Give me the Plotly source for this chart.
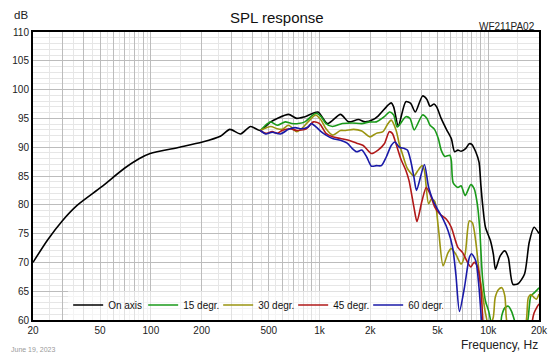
import plotly.graph_objects as go
import math

# ---------------- data ----------------
freq_on = [20, 24.4, 29.8, 36.5, 50.9, 69.4, 85, 99, 148, 202, 258, 294, 340, 390, 445, 513, 561, 655, 732, 818,
           978, 1116, 1330, 1488, 1700, 1860, 2080, 2222, 2546, 2660, 2750, 2930, 3246, 3470, 3694, 4080, 4330,
           4520, 4777, 4946, 5260, 5652, 6040, 6320, 6606, 6903, 7370, 7720, 7990, 8430, 8820, 9040, 9250, 9630,
           10300, 10730, 11040, 11760, 12540, 13160, 14000, 15030, 16420, 17500, 18700, 20000]
spl_on = [70.0, 73.9, 77.2, 79.9, 83.1, 86.3, 88.0, 88.9, 90.0, 90.9, 91.9, 93.1, 92.3, 93.6, 92.9, 94.4, 95.0, 95.7,
          95.0, 95.3, 96.1, 94.1, 95.7, 94.4, 94.8, 94.4, 94.8, 95.4, 97.3, 97.7, 97.0, 93.7, 97.9, 97.6, 96.1,
          98.9, 98.3, 97.1, 97.5, 97.0, 95.0, 93.1, 91.5, 89.2, 89.5, 89.3, 89.8, 90.6, 90.5, 89.2, 87.4, 83.5,
          80.2, 76.1, 73.8, 71.4, 68.8, 71.1, 72.0, 70.8, 66.2, 66.3, 68.0, 73.5, 76.1, 75.0]

freq_15 = [445, 491, 513, 561, 626, 685, 749, 818, 914, 956, 1021, 1092, 1194, 1364, 1559, 1780, 1987, 2170, 2421,
           2600, 2750, 2890, 3246, 3436, 3640, 4080, 4330, 4520, 4800, 5059, 5260, 5530, 5913, 6040, 6200, 6606,
           6903, 7300, 7886, 8250, 8610, 8890, 9250, 9630, 10070, 10500, 11200, 11760, 12040, 12540, 13160, 13750,
           14350, 15000, 16000, 17180, 17900, 18700, 20000]
spl_15 = [92.9, 94.1, 94.4, 93.8, 94.4, 94.1, 94.1, 94.4, 95.6, 95.9, 95.3, 94.1, 93.6, 94.1, 94.2, 94.1, 94.4, 94.4,
          95.3, 96.1, 95.6, 93.5, 95.3, 95.0, 93.0, 95.6, 95.0, 93.8, 93.1, 91.5, 89.5, 88.4, 88.6, 87.7, 83.8, 83.0,
          83.3, 81.6, 83.5, 82.8, 80.2, 76.1, 67.3, 63.3, 61.5, 59.0, 57.0, 58.5, 60.8, 62.1, 62.4, 61.5, 59.8, 57.5,
          57.0, 60.0, 64.2, 64.7, 65.6]

freq_30 = [445, 513, 561, 599, 655, 732, 782, 874, 947, 1021, 1092, 1194, 1330, 1426, 1592, 1780, 1987, 2170, 2376,
           2546, 2660, 2840, 2968, 3094, 3316, 3626, 3800, 4050, 4180, 4428, 4610, 4820, 5059, 5400, 5780, 6040,
           6430, 6903, 7300, 7720, 8050, 8430, 8820, 9250, 9630, 10100, 10700, 11000, 11516, 12036, 12540, 12800,
           13400, 15000, 16400, 16900, 17300, 17900, 18700, 19300, 20000]
spl_30 = [92.9, 93.6, 93.2, 93.1, 93.8, 92.7, 93.2, 94.7, 95.6, 94.7, 93.2, 92.1, 92.9, 92.9, 93.1, 92.8, 91.8, 92.4,
          92.7, 94.1, 94.7, 93.0, 90.6, 88.9, 86.3, 85.0, 85.8, 86.8, 86.0, 80.2, 81.0, 80.6, 76.1, 69.4, 71.7, 72.4,
          71.4, 69.7, 71.5, 77.2, 76.9, 73.7, 68.5, 64.5, 61.2, 58.8, 60.4, 63.9, 65.3, 65.6, 64.2, 60.4, 57.0, 55.5,
          57.5, 60.4, 63.9, 64.4, 63.9, 63.6, 64.5]

freq_45 = [445, 480, 524, 561, 599, 670, 732, 836, 920, 1000, 1092, 1194, 1330, 1488, 1660, 1815, 2030, 2222, 2421,
           2590, 2700, 2840, 3030, 3246, 3392, 3626, 3780, 4050, 4290, 4520, 4820, 5170, 5652, 6040, 6606, 7050,
           7546, 7886, 8250, 8610, 9040, 9250, 9600, 12000, 17000, 18300, 18700, 19600, 20000]
spl_45 = [92.9, 92.4, 92.7, 92.4, 92.9, 93.2, 92.9, 93.2, 94.4, 94.1, 92.4, 91.8, 91.5, 91.2, 90.7, 90.3, 88.9, 89.5,
          90.6, 92.7, 92.4, 90.6, 88.0, 86.0, 84.2, 79.6, 77.1, 80.7, 83.0, 81.9, 79.6, 78.4, 77.5, 76.1, 72.6, 71.7,
          70.0, 69.2, 70.0, 69.4, 65.6, 61.0, 55.0, 50.0, 52.0, 60.0, 61.2, 62.4, 62.8]

freq_60 = [445, 480, 524, 586, 655, 716, 782, 855, 894, 956, 1021, 1092, 1194, 1330, 1458, 1559, 1660, 1780, 1904,
           2030, 2170, 2326, 2486, 2660, 2800, 2968, 3170, 3316, 3468, 3626, 3758, 4182, 4428, 4715, 5059, 5400,
           5780, 6150, 6430, 6750, 7222, 7720, 7960, 8430, 8820, 9110, 9400, 12000, 20000]
spl_60 = [92.9, 92.3, 92.6, 92.3, 93.1, 93.4, 93.2, 93.5, 94.1, 93.5, 92.7, 92.1, 91.5, 91.2, 90.7, 89.8, 89.2, 89.5,
          88.3, 86.7, 86.8, 86.8, 88.3, 90.3, 90.9, 90.0, 89.8, 89.5, 87.7, 84.8, 82.5, 87.0, 83.1, 80.7, 79.0, 77.5,
          75.5, 72.6, 67.9, 61.5, 65.6, 70.8, 71.5, 70.3, 65.6, 60.0, 54.0, 48.0, 48.0]

series_names = ["On axis", "15 degr.", "30 degr.", "45 degr.", "60 degr."]
series_colors = ["#000000", "#1a9a1a", "#9a9410", "#b01818", "#1a1aa8"]

x_label_vals = [20, 50, 100, 200, 500, 1000, 2000, 5000, 10000, 20000]
x_label_text = ["20", "50", "100", "200", "500", "1k", "2k", "5k", "10k", "20k"]
y_tick_vals = [60, 65, 70, 75, 80, 85, 90, 95, 100, 105, 110]

# ---------------- figure ----------------
W, H = 560, 356
L, R, T, B = 30, 12, 32, 36
FONT = "Liberation Sans, Arial, sans-serif"

def px_x(px):
    return (px - L) / (W - L - R)

def px_y(py):
    return (H - B - py) / (H - T - B)

fig = go.Figure()
all_f = [freq_on, freq_15, freq_30, freq_45, freq_60]
all_s = [spl_on, spl_15, spl_30, spl_45, spl_60]
for f, s, n, c in zip(all_f, all_s, series_names, series_colors):
    fig.add_trace(go.Scatter(x=f, y=s, name=n, mode="lines",
                             line=dict(color=c, width=1.6, shape="spline", smoothing=0.7)))

# grid values
major_x = []
minor_x = []
for dec in [10, 100, 1000, 10000]:
    for k in range(1, 10):
        v = k * dec
        if 20 <= v <= 20000:
            major_x.append(v)
        h = (k + 0.5) * dec
        if 20 <= h <= 20000:
            minor_x.append(h)
major_text = [x_label_text[x_label_vals.index(v)] if v in x_label_vals else "" for v in major_x]

fig.update_layout(
    width=W, height=H,
    margin=dict(l=L, r=R, t=T, b=B),
    paper_bgcolor="white", plot_bgcolor="white",
    font=dict(family=FONT, size=10, color="#222"),
    showlegend=True,
    legend=dict(orientation="h", x=px_x(66), y=px_y(305), xanchor="left", yanchor="middle",
                bgcolor="rgba(255,255,255,0.55)", font=dict(size=10, color="#111"),
                entrywidth=30, entrywidthmode="pixels", itemwidth=30,
                tracegroupgap=0),
    xaxis=dict(type="log", range=[math.log10(20), math.log10(20000)],
               tickmode="array", tickvals=major_x, ticktext=major_text,
               showgrid=True, gridcolor="#bcbcbc", gridwidth=1,
               ticks="", showline=True, linecolor="black", linewidth=2, mirror=True,
               tickfont=dict(size=10, color="#222"), zeroline=False,
               minor=dict(tickmode="array", tickvals=minor_x, showgrid=True,
                          gridcolor="#e6e6e6", gridwidth=1, ticks="")),
    yaxis=dict(range=[60, 110], tickmode="array", tickvals=y_tick_vals,
               showgrid=True, gridcolor="#bcbcbc", gridwidth=1,
               ticks="", showline=True, linecolor="black", linewidth=2, mirror=True,
               tickfont=dict(size=10, color="#222"), zeroline=False,
               minor=dict(dtick=1, showgrid=True, gridcolor="#e6e6e6", gridwidth=1, ticks="")),
)

annos = [
    dict(text="SPL response", x=px_x(280), y=px_y(18), xanchor="center", yanchor="middle",
         font=dict(size=15, color="#111")),
    dict(text="dB", x=px_x(8), y=px_y(15), xanchor="left", yanchor="middle",
         font=dict(size=11.5, color="#222")),
    dict(text="WF211PA02", x=px_x(546), y=px_y(26), xanchor="right", yanchor="middle",
         font=dict(size=10, color="#222")),
    dict(text="Frequency, Hz", x=px_x(549), y=px_y(345), xanchor="right", yanchor="middle",
         font=dict(size=12, color="#222")),
    dict(text="June 19, 2023", x=px_x(5), y=px_y(349), xanchor="left", yanchor="middle",
         font=dict(size=7, color="#9a9a9a")),
]
for a in annos:
    fig.add_annotation(xref="paper", yref="paper", showarrow=False, **a)

fig.write_html("out.html", config={"displayModeBar": False},
               post_script="document.body.style.margin='0px';document.body.style.overflow='hidden';")
